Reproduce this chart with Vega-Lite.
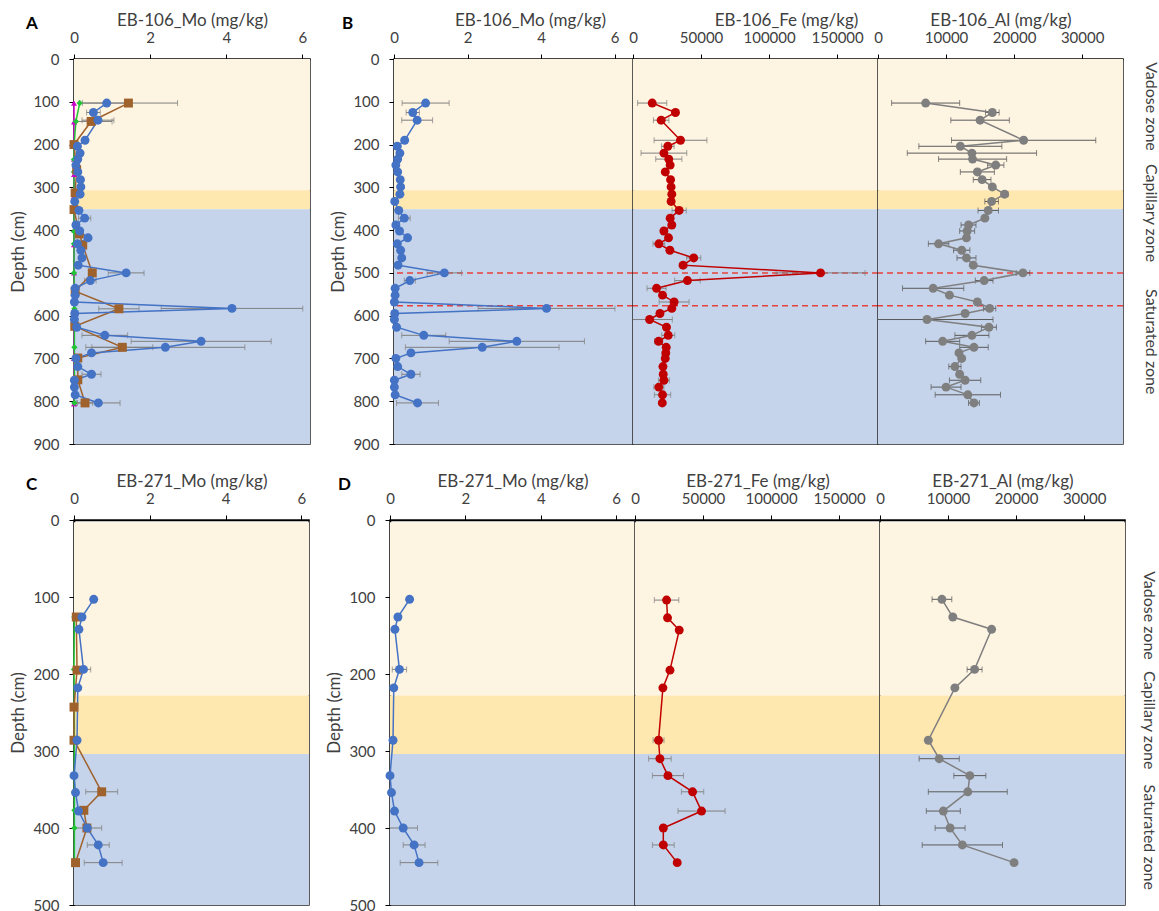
{
"$schema":"https://vega.github.io/schema/vega-lite/v6.json",
"padding":{"left":9,"top":10,"right":4,"bottom":0},
"autosize":{"type":"pad"},
"spacing":18,
"config":{
 "font":"Lato",
 "view":{"stroke":"#262626","strokeWidth":1.5},
 "axis":{"labelFont":"Lato","titleFont":"Lato","labelFontSize":15,"titleFontSize":17,"titleFontWeight":"normal","labelColor":"#404040","titleColor":"#404040","domainColor":"#000000","domainWidth":1.5,"tickColor":"#000000","tickSize":5,"tickWidth":1,"grid":false,"zindex":1,"labelFlush":false,"labelOverlap":false},
 "axisY":{"labelPadding":10,"titlePadding":5},
 "axisX":{"labelPadding":9,"titlePadding":1},
 "title":{"font":"Lato","fontSize":17,"fontWeight":"bold","color":"#000000","anchor":"start","frame":"bounds"}
},
"datasets":{
 "zones106":[{"from":0,"to":307,"z":"V"},{"from":307,"to":351,"z":"C"},{"from":351,"to":900,"z":"S"}],
 "zones271":[{"from":3,"to":228,"z":"V"},{"from":228,"to":304,"z":"C"},{"from":304,"to":500,"z":"S"}],
 "dash106":[{"depth":500},{"depth":577}],
 "zl106":[{"label":"Vadose zone","depth":111},{"label":"Capillary zone","depth":360},{"label":"Saturated zone","depth":661}],
 "zl271":[{"label":"Vadose zone","depth":124},{"label":"Capillary zone","depth":260},{"label":"Saturated zone","depth":412}],
 "mo106":[{"depth":103,"v":0.86,"e":0.64},{"depth":125,"v":0.51,"e":0.18},{"depth":143,"v":0.63,"e":0.42},{"depth":190,"v":0.29,"e":0},{"depth":204,"v":0.09,"e":0},{"depth":220,"v":0.16,"e":0},{"depth":234,"v":0.10,"e":0},{"depth":248,"v":0.05,"e":0},{"depth":264,"v":0.10,"e":0},{"depth":282,"v":0.17,"e":0},{"depth":299,"v":0.18,"e":0},{"depth":316,"v":0.16,"e":0},{"depth":333,"v":0.02,"e":0},{"depth":354,"v":0.13,"e":0},{"depth":372,"v":0.28,"e":0.16},{"depth":388,"v":0.05,"e":0},{"depth":402,"v":0.15,"e":0},{"depth":418,"v":0.37,"e":0},{"depth":432,"v":0.09,"e":0},{"depth":447,"v":0.18,"e":0},{"depth":465,"v":0.21,"e":0},{"depth":482,"v":0.11,"e":0},{"depth":500,"v":1.37,"e":0.47},{"depth":518,"v":0.43,"e":0.15},{"depth":536,"v":0.03,"e":0},{"depth":552,"v":0.03,"e":0},{"depth":568,"v":0.01,"e":0},{"depth":583,"v":4.15,"e":1.86},{"depth":595,"v":0.02,"e":0},{"depth":609,"v":0.01,"e":0},{"depth":627,"v":0.07,"e":0},{"depth":646,"v":0.81,"e":0.6},{"depth":660,"v":3.34,"e":1.84},{"depth":674,"v":2.40,"e":2.09},{"depth":687,"v":0.46,"e":0},{"depth":700,"v":0.05,"e":0},{"depth":719,"v":0.10,"e":0},{"depth":737,"v":0.46,"e":0.25},{"depth":751,"v":0.01,"e":0},{"depth":767,"v":0.01,"e":0},{"depth":785,"v":0.03,"e":0},{"depth":804,"v":0.64,"e":0.57}],
 "fe106":[{"depth":103,"v":14100,"e":10700},{"depth":125,"v":31200,"e":0},{"depth":143,"v":20700,"e":5700},{"depth":190,"v":34900,"e":19400},{"depth":204,"v":25600,"e":4600},{"depth":220,"v":22700,"e":16800},{"depth":234,"v":26300,"e":9600},{"depth":248,"v":27300,"e":0},{"depth":264,"v":23700,"e":0},{"depth":282,"v":27600,"e":0},{"depth":299,"v":28000,"e":0},{"depth":316,"v":28500,"e":0},{"depth":333,"v":28000,"e":0},{"depth":354,"v":33900,"e":5200},{"depth":372,"v":27300,"e":0},{"depth":388,"v":28500,"e":0},{"depth":402,"v":22700,"e":0},{"depth":418,"v":26100,"e":0},{"depth":432,"v":19000,"e":4300},{"depth":447,"v":27100,"e":0},{"depth":465,"v":44600,"e":5200},{"depth":482,"v":36800,"e":2700},{"depth":500,"v":137800,"e":32700},{"depth":518,"v":40000,"e":9400},{"depth":536,"v":17300,"e":7000},{"depth":552,"v":21700,"e":0},{"depth":568,"v":30200,"e":11000},{"depth":583,"v":28500,"e":0},{"depth":595,"v":19800,"e":0},{"depth":609,"v":12200,"e":16700},{"depth":627,"v":24600,"e":0},{"depth":646,"v":25900,"e":4800},{"depth":660,"v":18800,"e":3000},{"depth":674,"v":24400,"e":0},{"depth":687,"v":24100,"e":0},{"depth":700,"v":23700,"e":0},{"depth":719,"v":22000,"e":0},{"depth":737,"v":22200,"e":0},{"depth":751,"v":22700,"e":4000},{"depth":767,"v":19000,"e":3700},{"depth":785,"v":21700,"e":6000},{"depth":804,"v":21500,"e":0}],
 "al106":[{"depth":103,"v":7000,"e":5000},{"depth":125,"v":16800,"e":1000},{"depth":143,"v":15000,"e":4300},{"depth":190,"v":21400,"e":10600},{"depth":204,"v":12100,"e":6100},{"depth":220,"v":13800,"e":9500},{"depth":234,"v":13900,"e":5000},{"depth":248,"v":17300,"e":1200},{"depth":264,"v":14600,"e":2500},{"depth":282,"v":15300,"e":1300},{"depth":299,"v":16800,"e":0},{"depth":316,"v":18600,"e":500},{"depth":333,"v":16700,"e":1000},{"depth":354,"v":16200,"e":1500},{"depth":372,"v":15700,"e":0},{"depth":388,"v":13300,"e":1100},{"depth":402,"v":13100,"e":1100},{"depth":418,"v":13000,"e":0},{"depth":432,"v":8900,"e":1500},{"depth":447,"v":12300,"e":1200},{"depth":465,"v":13000,"e":1400},{"depth":482,"v":14000,"e":0},{"depth":500,"v":21300,"e":1000},{"depth":518,"v":15600,"e":1300},{"depth":536,"v":8100,"e":4500},{"depth":552,"v":10500,"e":0},{"depth":568,"v":14600,"e":0},{"depth":583,"v":16400,"e":900},{"depth":595,"v":12800,"e":0},{"depth":609,"v":7200,"e":9700},{"depth":627,"v":16300,"e":1100},{"depth":646,"v":13800,"e":2500},{"depth":660,"v":9500,"e":2500},{"depth":674,"v":14100,"e":2100},{"depth":687,"v":11900,"e":0},{"depth":700,"v":12300,"e":0},{"depth":719,"v":11300,"e":900},{"depth":737,"v":12000,"e":0},{"depth":751,"v":12800,"e":2300},{"depth":767,"v":10000,"e":2200},{"depth":785,"v":13200,"e":4800},{"depth":804,"v":14100,"e":800}],
 "br106":[{"depth":103,"v":1.43,"e":1.29},{"depth":146,"v":0.45,"e":0.55},{"depth":200,"v":0.0,"e":0},{"depth":259,"v":0.07,"e":0},{"depth":313,"v":0.03,"e":0},{"depth":352,"v":0.0,"e":0},{"depth":409,"v":0.14,"e":0},{"depth":435,"v":0.23,"e":0},{"depth":500,"v":0.48,"e":0},{"depth":543,"v":0.03,"e":0},{"depth":584,"v":1.18,"e":0.53},{"depth":625,"v":0.02,"e":0},{"depth":674,"v":1.27,"e":0.8},{"depth":699,"v":0.1,"e":0},{"depth":750,"v":0.1,"e":0},{"depth":804,"v":0.29,"e":0.2}],
 "gr106":[{"depth":103,"v":0.15},{"depth":146,"v":0.05},{"depth":204,"v":0.0},{"depth":235,"v":0.0},{"depth":264,"v":0.0},{"depth":317,"v":0.0},{"depth":354,"v":0.0},{"depth":403,"v":0.0},{"depth":432,"v":0.0},{"depth":500,"v":0.0},{"depth":584,"v":0.01},{"depth":674,"v":0.01},{"depth":804,"v":0.01}],
 "mg106":[{"depth":103,"v":0},{"depth":147,"v":0},{"depth":204,"v":0},{"depth":234,"v":0},{"depth":270,"v":0},{"depth":321,"v":0},{"depth":399,"v":0},{"depth":434,"v":0},{"depth":500,"v":0},{"depth":543,"v":0},{"depth":584,"v":0},{"depth":700,"v":0},{"depth":806,"v":0}],
 "mo271":[{"depth":103,"v":0.52,"e":0},{"depth":126,"v":0.21,"e":0},{"depth":142,"v":0.13,"e":0},{"depth":194,"v":0.25,"e":0.19},{"depth":218,"v":0.10,"e":0},{"depth":286,"v":0.08,"e":0.05},{"depth":332,"v":0.0,"e":0},{"depth":354,"v":0.04,"e":0},{"depth":378,"v":0.12,"e":0},{"depth":400,"v":0.35,"e":0.38},{"depth":422,"v":0.64,"e":0.29},{"depth":445,"v":0.77,"e":0.5}],
 "fe271":[{"depth":104,"v":23200,"e":9000},{"depth":127,"v":23900,"e":0},{"depth":143,"v":32500,"e":0},{"depth":195,"v":25700,"e":0},{"depth":218,"v":20500,"e":0},{"depth":286,"v":17300,"e":4000},{"depth":310,"v":18300,"e":8300},{"depth":332,"v":24200,"e":11400},{"depth":353,"v":42300,"e":8200},{"depth":378,"v":48900,"e":17300},{"depth":400,"v":20800,"e":0},{"depth":422,"v":20800,"e":8000},{"depth":445,"v":31000,"e":0}],
 "al271":[{"depth":103,"v":9100,"e":1450},{"depth":126,"v":10700,"e":0},{"depth":142,"v":16400,"e":0},{"depth":194,"v":13900,"e":1100},{"depth":218,"v":11000,"e":0},{"depth":286,"v":7100,"e":0},{"depth":310,"v":8700,"e":2950},{"depth":332,"v":13200,"e":2350},{"depth":353,"v":12900,"e":5800},{"depth":378,"v":9300,"e":2500},{"depth":400,"v":10300,"e":2200},{"depth":422,"v":12100,"e":5900},{"depth":445,"v":19700,"e":0}],
 "br271":[{"depth":126,"v":0.06,"e":0},{"depth":195,"v":0.08,"e":0},{"depth":243,"v":0.0,"e":0},{"depth":286,"v":0.0,"e":0},{"depth":353,"v":0.73,"e":0.42},{"depth":377,"v":0.26,"e":0},{"depth":400,"v":0.34,"e":0},{"depth":445,"v":0.04,"e":0}],
 "gr271":[{"depth":126,"v":0.01},{"depth":194,"v":0.0},{"depth":243,"v":0.01},{"depth":286,"v":0.01},{"depth":332,"v":0.01},{"depth":353,"v":0.01},{"depth":377,"v":0.01},{"depth":400,"v":0.01},{"depth":445,"v":0.01}],
 "mg271":[{"depth":447,"v":0}]
},
"vconcat":[
 {"spacing":18,"hconcat":[
  {"width":236,"height":385,"title":{"text":"A","dx":16,"dy":26},
   "layer":[
    {"data":{"name":"zones106"},"mark":"rect","encoding":{"y":{"field":"from","type":"quantitative","title":"Depth (cm)"},"y2":{"field":"to"},"color":{"field":"z","type":"nominal","scale":{"domain":["V","C","S"],"range":["#FEF4E2","#FFE7B0","#C5D4EB"]},"legend":null}}},
    {"encoding":{"x":{"field":"v","type":"quantitative","scale":{"domain":[0,6.2],"nice":false,"zero":false},"axis":{"orient":"top","title":"EB-106_Mo (mg/kg)","values":[0,2,4,6]}},"y":{"field":"depth","type":"quantitative","scale":{"domain":[0,900],"reverse":true,"nice":false,"zero":false},"axis":{"title":"Depth (cm)","values":[0,100,200,300,400,500,600,700,800,900]}}},
     "layer":[
      {"data":{"name":"br106"},"transform":[{"filter":"datum.e > 0"}],"mark":{"type":"errorbar","ticks":{"size":6},"color":"#7F7F7F","thickness":1,"clip":true},"encoding":{"xError":{"field":"e"}}},
      {"data":{"name":"mo106"},"transform":[{"filter":"datum.e > 0"}],"mark":{"type":"errorbar","ticks":{"size":6},"color":"#7F7F7F","thickness":1,"clip":true},"encoding":{"xError":{"field":"e"}}},
      {"data":{"name":"mg106"},"mark":{"type":"line","color":"#CC00CC","strokeWidth":1.5},"encoding":{"order":{"field":"depth","type":"quantitative"}}},
      {"data":{"name":"gr106"},"mark":{"type":"line","color":"#21C434","strokeWidth":1.5},"encoding":{"order":{"field":"depth","type":"quantitative"}}},
      {"data":{"name":"br106"},"mark":{"type":"line","color":"#A0622D","strokeWidth":1.5},"encoding":{"order":{"field":"depth","type":"quantitative"}}},
      {"data":{"name":"mo106"},"mark":{"type":"line","color":"#4472C4","strokeWidth":1.5},"encoding":{"order":{"field":"depth","type":"quantitative"}}},
      {"data":{"name":"mg106"},"mark":{"type":"point","shape":"triangle-up","filled":true,"size":36,"color":"#CC00CC","opacity":1}},
      {"data":{"name":"gr106"},"mark":{"type":"point","shape":"diamond","filled":true,"size":40,"color":"#21C434","opacity":1}},
      {"data":{"name":"br106"},"mark":{"type":"point","shape":"square","filled":true,"size":80,"color":"#A0622D","opacity":1}},
      {"data":{"name":"mo106"},"mark":{"type":"point","shape":"circle","filled":true,"size":80,"color":"#4472C4","opacity":1}}
     ]}
   ]},
  {"bounds":"flush","spacing":0,"hconcat":[
   {"width":239,"height":385,"title":{"text":"B","dx":12,"dy":26},
    "layer":[
     {"data":{"name":"zones106"},"mark":"rect","encoding":{"y":{"field":"from","type":"quantitative","title":"Depth (cm)"},"y2":{"field":"to"},"color":{"field":"z","type":"nominal","scale":{"domain":["V","C","S"],"range":["#FEF4E2","#FFE7B0","#C5D4EB"]},"legend":null}}},
     {"data":{"name":"dash106"},"mark":{"type":"rule","color":"#E8413C","strokeDash":[6,4],"strokeWidth":1.5},"encoding":{"y":{"field":"depth","type":"quantitative","title":"Depth (cm)"}}},
     {"encoding":{"x":{"field":"v","type":"quantitative","scale":{"domain":[0,6.5],"nice":false,"zero":false},"axis":{"orient":"top","title":"EB-106_Mo (mg/kg)","values":[0,2,4,6],"titleX":136}},"y":{"field":"depth","type":"quantitative","scale":{"domain":[0,900],"reverse":true,"nice":false,"zero":false},"axis":{"title":"Depth (cm)","values":[0,100,200,300,400,500,600,700,800,900]}}},
      "layer":[
       {"data":{"name":"mo106"},"transform":[{"filter":"datum.e > 0"}],"mark":{"type":"errorbar","ticks":{"size":6},"color":"#7F7F7F","thickness":1,"clip":true},"encoding":{"xError":{"field":"e"}}},
       {"data":{"name":"mo106"},"mark":{"type":"line","color":"#4472C4","strokeWidth":1.5},"encoding":{"order":{"field":"depth","type":"quantitative"}}},
       {"data":{"name":"mo106"},"mark":{"type":"point","shape":"circle","filled":true,"size":80,"color":"#4472C4","opacity":1}}
      ]}
    ]},
   {"width":245,"height":385,
    "layer":[
     {"data":{"name":"zones106"},"mark":"rect","encoding":{"y":{"field":"from","type":"quantitative","axis":null},"y2":{"field":"to"},"color":{"field":"z","type":"nominal","scale":{"domain":["V","C","S"],"range":["#FEF4E2","#FFE7B0","#C5D4EB"]},"legend":null}}},
     {"data":{"name":"dash106"},"mark":{"type":"rule","color":"#E8413C","strokeDash":[6,4],"strokeWidth":1.5},"encoding":{"y":{"field":"depth","type":"quantitative","axis":null}}},
     {"encoding":{"x":{"field":"v","type":"quantitative","scale":{"domain":[0,180000],"nice":false,"zero":false},"axis":{"orient":"top","title":"EB-106_Fe (mg/kg)","values":[0,50000,100000,150000],"format":"d","titleX":153}},"y":{"field":"depth","type":"quantitative","scale":{"domain":[0,900],"reverse":true,"nice":false,"zero":false},"axis":null}},
      "layer":[
       {"data":{"name":"fe106"},"transform":[{"filter":"datum.e > 0"}],"mark":{"type":"errorbar","ticks":{"size":6},"color":"#7F7F7F","thickness":1,"clip":true},"encoding":{"xError":{"field":"e"}}},
       {"data":{"name":"fe106"},"mark":{"type":"line","color":"#C00000","strokeWidth":1.5},"encoding":{"order":{"field":"depth","type":"quantitative"}}},
       {"data":{"name":"fe106"},"mark":{"type":"point","shape":"circle","filled":true,"size":80,"color":"#C00000","opacity":1}}
      ]}
    ]},
   {"width":245,"height":385,
    "layer":[
     {"data":{"name":"zones106"},"mark":"rect","encoding":{"y":{"field":"from","type":"quantitative","axis":null},"y2":{"field":"to"},"color":{"field":"z","type":"nominal","scale":{"domain":["V","C","S"],"range":["#FEF4E2","#FFE7B0","#C5D4EB"]},"legend":null}}},
     {"data":{"name":"dash106"},"mark":{"type":"rule","color":"#E8413C","strokeDash":[6,4],"strokeWidth":1.5},"encoding":{"y":{"field":"depth","type":"quantitative","axis":null}}},
     {"encoding":{"x":{"field":"v","type":"quantitative","scale":{"domain":[0,36000],"nice":false,"zero":false},"axis":{"orient":"top","title":"EB-106_Al (mg/kg)","values":[0,10000,20000,30000],"format":"d"}},"y":{"field":"depth","type":"quantitative","scale":{"domain":[0,900],"reverse":true,"nice":false,"zero":false},"axis":null}},
      "layer":[
       {"data":{"name":"al106"},"transform":[{"filter":"datum.e > 0"}],"mark":{"type":"errorbar","ticks":{"size":6},"color":"#595959","thickness":1,"clip":true},"encoding":{"xError":{"field":"e"}}},
       {"data":{"name":"al106"},"mark":{"type":"line","color":"#7F7F7F","strokeWidth":1.5},"encoding":{"order":{"field":"depth","type":"quantitative"}}},
       {"data":{"name":"al106"},"mark":{"type":"point","shape":"circle","filled":true,"size":80,"color":"#7F7F7F","opacity":1}}
      ]}
    ]}
  ]},
  {"width":12,"height":385,"view":{"stroke":null},"data":{"name":"zl106"},
   "mark":{"type":"text","angle":90,"fontSize":16,"font":"Lato","color":"#404040","align":"center","baseline":"middle"},
   "encoding":{"y":{"field":"depth","type":"quantitative","scale":{"domain":[0,900],"reverse":true,"nice":false,"zero":false},"axis":null},"text":{"field":"label"}}}
 ]},
 {"spacing":15,"hconcat":[
  {"width":235,"height":385,"title":{"text":"C","dx":16,"dy":26},
   "layer":[
    {"data":{"name":"zones271"},"mark":"rect","encoding":{"y":{"field":"from","type":"quantitative","title":"Depth (cm)"},"y2":{"field":"to"},"color":{"field":"z","type":"nominal","scale":{"domain":["V","C","S"],"range":["#FEF4E2","#FFE7B0","#C5D4EB"]},"legend":null}}},
    {"encoding":{"x":{"field":"v","type":"quantitative","scale":{"domain":[0,6.2],"nice":false,"zero":false},"axis":{"orient":"top","title":"EB-271_Mo (mg/kg)","values":[0,2,4,6]}},"y":{"field":"depth","type":"quantitative","scale":{"domain":[0,500],"reverse":true,"nice":false,"zero":false},"axis":{"title":"Depth (cm)","values":[0,50,100,150,200,250,300,350,400,450,500]}}},
     "layer":[
      {"data":{"name":"br271"},"transform":[{"filter":"datum.e > 0"}],"mark":{"type":"errorbar","ticks":{"size":6},"color":"#7F7F7F","thickness":1,"clip":true},"encoding":{"xError":{"field":"e"}}},
      {"data":{"name":"mo271"},"transform":[{"filter":"datum.e > 0"}],"mark":{"type":"errorbar","ticks":{"size":6},"color":"#7F7F7F","thickness":1,"clip":true},"encoding":{"xError":{"field":"e"}}},
      {"data":{"name":"gr271"},"mark":{"type":"line","color":"#21C434","strokeWidth":1.5},"encoding":{"order":{"field":"depth","type":"quantitative"}}},
      {"data":{"name":"br271"},"mark":{"type":"line","color":"#A0622D","strokeWidth":1.5},"encoding":{"order":{"field":"depth","type":"quantitative"}}},
      {"data":{"name":"mo271"},"mark":{"type":"line","color":"#4472C4","strokeWidth":1.5},"encoding":{"order":{"field":"depth","type":"quantitative"}}},
      {"data":{"name":"mg271"},"mark":{"type":"point","shape":"triangle-up","filled":true,"size":36,"color":"#CC00CC","opacity":1}},
      {"data":{"name":"gr271"},"mark":{"type":"point","shape":"diamond","filled":true,"size":40,"color":"#21C434","opacity":1}},
      {"data":{"name":"br271"},"mark":{"type":"point","shape":"square","filled":true,"size":80,"color":"#A0622D","opacity":1}},
      {"data":{"name":"mo271"},"mark":{"type":"point","shape":"circle","filled":true,"size":80,"color":"#4472C4","opacity":1}}
     ]}
   ]},
  {"bounds":"flush","spacing":0,"hconcat":[
   {"width":245,"height":385,"title":{"text":"D","dx":12,"dy":26},
    "layer":[
     {"data":{"name":"zones271"},"mark":"rect","encoding":{"y":{"field":"from","type":"quantitative","title":"Depth (cm)"},"y2":{"field":"to"},"color":{"field":"z","type":"nominal","scale":{"domain":["V","C","S"],"range":["#FEF4E2","#FFE7B0","#C5D4EB"]},"legend":null}}},
     {"encoding":{"x":{"field":"v","type":"quantitative","scale":{"domain":[0,6.5],"nice":false,"zero":false},"axis":{"orient":"top","title":"EB-271_Mo (mg/kg)","values":[0,2,4,6]}},"y":{"field":"depth","type":"quantitative","scale":{"domain":[0,500],"reverse":true,"nice":false,"zero":false},"axis":{"title":"Depth (cm)","values":[0,50,100,150,200,250,300,350,400,450,500]}}},
      "layer":[
       {"data":{"name":"mo271"},"transform":[{"filter":"datum.e > 0"}],"mark":{"type":"errorbar","ticks":{"size":6},"color":"#7F7F7F","thickness":1,"clip":true},"encoding":{"xError":{"field":"e"}}},
       {"data":{"name":"mo271"},"mark":{"type":"line","color":"#4472C4","strokeWidth":1.5},"encoding":{"order":{"field":"depth","type":"quantitative"}}},
       {"data":{"name":"mo271"},"mark":{"type":"point","shape":"circle","filled":true,"size":80,"color":"#4472C4","opacity":1}}
      ]}
    ]},
   {"width":245,"height":385,
    "layer":[
     {"data":{"name":"zones271"},"mark":"rect","encoding":{"y":{"field":"from","type":"quantitative","axis":null},"y2":{"field":"to"},"color":{"field":"z","type":"nominal","scale":{"domain":["V","C","S"],"range":["#FEF4E2","#FFE7B0","#C5D4EB"]},"legend":null}}},
     {"encoding":{"x":{"field":"v","type":"quantitative","scale":{"domain":[0,180000],"nice":false,"zero":false},"axis":{"orient":"top","title":"EB-271_Fe (mg/kg)","values":[0,50000,100000,150000],"format":"d"}},"y":{"field":"depth","type":"quantitative","scale":{"domain":[0,500],"reverse":true,"nice":false,"zero":false},"axis":null}},
      "layer":[
       {"data":{"name":"fe271"},"transform":[{"filter":"datum.e > 0"}],"mark":{"type":"errorbar","ticks":{"size":6},"color":"#7F7F7F","thickness":1,"clip":true},"encoding":{"xError":{"field":"e"}}},
       {"data":{"name":"fe271"},"mark":{"type":"line","color":"#C00000","strokeWidth":1.5},"encoding":{"order":{"field":"depth","type":"quantitative"}}},
       {"data":{"name":"fe271"},"mark":{"type":"point","shape":"circle","filled":true,"size":80,"color":"#C00000","opacity":1}}
      ]}
    ]},
   {"width":245,"height":385,
    "layer":[
     {"data":{"name":"zones271"},"mark":"rect","encoding":{"y":{"field":"from","type":"quantitative","axis":null},"y2":{"field":"to"},"color":{"field":"z","type":"nominal","scale":{"domain":["V","C","S"],"range":["#FEF4E2","#FFE7B0","#C5D4EB"]},"legend":null}}},
     {"encoding":{"x":{"field":"v","type":"quantitative","scale":{"domain":[0,36000],"nice":false,"zero":false},"axis":{"orient":"top","title":"EB-271_Al (mg/kg)","values":[0,10000,20000,30000],"format":"d"}},"y":{"field":"depth","type":"quantitative","scale":{"domain":[0,500],"reverse":true,"nice":false,"zero":false},"axis":null}},
      "layer":[
       {"data":{"name":"al271"},"transform":[{"filter":"datum.e > 0"}],"mark":{"type":"errorbar","ticks":{"size":6},"color":"#595959","thickness":1,"clip":true},"encoding":{"xError":{"field":"e"}}},
       {"data":{"name":"al271"},"mark":{"type":"line","color":"#7F7F7F","strokeWidth":1.5},"encoding":{"order":{"field":"depth","type":"quantitative"}}},
       {"data":{"name":"al271"},"mark":{"type":"point","shape":"circle","filled":true,"size":80,"color":"#7F7F7F","opacity":1}}
      ]}
    ]}
  ]},
  {"width":14,"height":385,"view":{"stroke":null},"data":{"name":"zl271"},
   "mark":{"type":"text","angle":90,"fontSize":16,"font":"Lato","color":"#404040","align":"center","baseline":"middle"},
   "encoding":{"y":{"field":"depth","type":"quantitative","scale":{"domain":[0,500],"reverse":true,"nice":false,"zero":false},"axis":null},"text":{"field":"label"}}}
 ]}
]
}
